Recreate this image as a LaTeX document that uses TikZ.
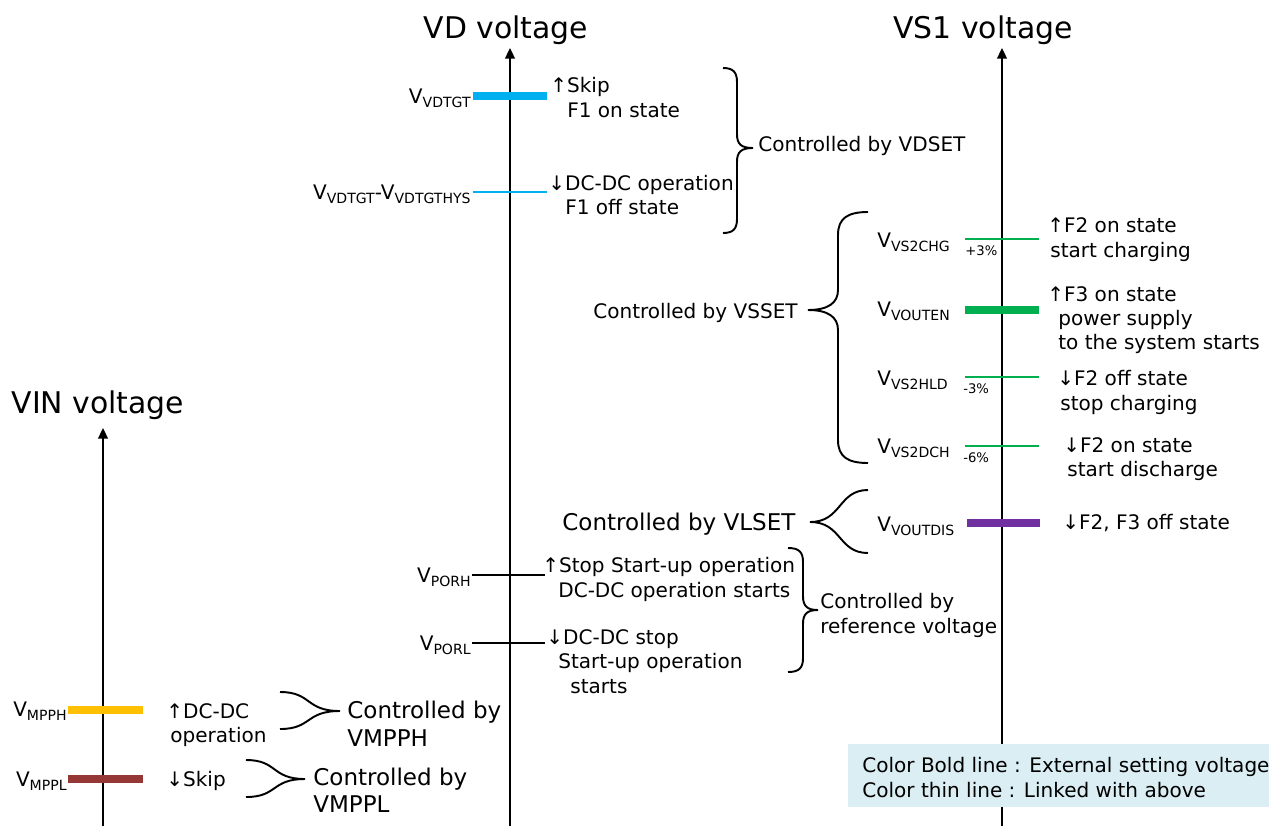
\documentclass[tikz,border=0pt]{standalone}
\usepackage{fontspec}
\setmainfont{DejaVu Sans}
\usetikzlibrary{arrows.meta}
\definecolor{cyanb}{HTML}{00B0F0}
\definecolor{greenb}{HTML}{00B050}
\definecolor{purpb}{HTML}{7030A0}
\definecolor{yelb}{HTML}{FFC000}
\definecolor{brownb}{HTML}{953735}
\definecolor{legbg}{HTML}{DAEEF3}
\newcommand\Vsub[1]{V\raisebox{-2.3pt}{\fontsize{8pt}{8pt}\selectfont #1}}
\newcommand\fnorm{\fontsize{11.4pt}{13pt}\selectfont}
\newcommand\fbig{\fontsize{13.1pt}{15pt}\selectfont}
\newcommand\ftitle{\fontsize{17pt}{20pt}\selectfont}
\newcommand\fsmall{\fontsize{7.5pt}{8pt}\selectfont}
\begin{document}
\begin{tikzpicture}[x=0.02cm,y=-0.02cm,
  txt/.style={anchor=base west,inner sep=0pt,font=\fnorm},
  bigtxt/.style={anchor=base west,inner sep=0pt,font=\fbig},
  lbl/.style={anchor=base east,inner sep=0pt,font=\fnorm},
  lblw/.style={anchor=base west,inner sep=0pt,font=\fnorm},
  pct/.style={anchor=base west,inner sep=0pt,font=\fsmall},
  ttl/.style={anchor=base,inner sep=0pt,font=\ftitle},
  thickbar/.style={line width=4pt,draw=#1},
  thinbar/.style={line width=1.3pt,draw=#1},
  axisline/.style={line width=1.1pt,-{Triangle[length=6pt,width=5.5pt]}},
  bracepath/.style={line width=1.1pt}]
\useasboundingbox (0,0) rectangle (1269,826);

% axes
\coordinate (vdB) at (510,826); \coordinate (vdT) at (510,48);
\coordinate (vsB) at (1002,826); \coordinate (vsT) at (1002,48);
\coordinate (vinB) at (103,826); \coordinate (vinT) at (103,428);
\draw[axisline] (vdB) -- (vdT);
\draw[axisline] (vsB) -- (vsT);
\draw[axisline] (vinB) -- (vinT);

% titles
\node[ttl] (tvd) at (506,38) {VD voltage};
\node[ttl] (tvs) at (983,38) {VS1 voltage};
\node[ttl] (tvin) at (98,413) {VIN voltage};

% ---- VD levels
\draw[thickbar=cyanb] (473,96) coordinate (vdtgtL) -- (547,96) coordinate (vdtgtR);
\draw[thinbar=cyanb] (473,192) coordinate (hysL) -- (547,192) coordinate (hysR);
\draw[line width=1.2pt] (472,575) coordinate (porhL) -- (545,575) coordinate (porhR);
\draw[line width=1.2pt] (472,643) coordinate (porlL) -- (545,643) coordinate (porlR);

\node[lbl] (lvdtgt) at (471,103) {\Vsub{VDTGT}};
\node[lbl] (lhys) at (471,199) {\Vsub{VDTGT}-\Vsub{VDTGTHYS}};
\node[lbl] (lporh) at (471,582) {\Vsub{PORH}};
\node[lbl] (lporl) at (471,650) {\Vsub{PORL}};

\node[txt] (skip) at (550,92) {↑Skip};
\node[txt] (f1on) at (567,117) {F1 on state};
\node[txt] (dcop) at (548,190) {↓DC-DC operation};
\node[txt] (f1off) at (565,214) {F1 off state};
\node[txt] (cvd) at (758,151) {Controlled by VDSET};

\node[txt] (stopsu) at (542,572) {↑Stop Start-up operation};
\node[txt] (dcst) at (558,597) {DC-DC operation starts};
\node[txt] (dcstop) at (546,644) {↓DC-DC stop};
\node[txt] (suop) at (558,668) {Start-up operation};
\node[txt] (strts) at (570,693) {starts};
\node[txt] (cref1) at (820,608) {Controlled by};
\node[txt] (cref2) at (820,633) {reference voltage};

% VDSET brace
\draw[bracepath] (723,68) .. controls (733,68) and (737,72) .. (737,82) -- (737,134)
  .. controls (737,144) and (741,148) .. (753,148)
  .. controls (741,148) and (737,152) .. (737,162) -- (737,219)
  .. controls (737,229) and (733,233) .. (723,233);
% reference brace
\draw[bracepath] (788,548) .. controls (799,548) and (803,552) .. (803,562) -- (803,596)
  .. controls (803,606) and (807,610) .. (818,610)
  .. controls (807,610) and (803,614) .. (803,624) -- (803,658)
  .. controls (803,668) and (799,672) .. (788,672);

% ---- VS1 levels
\draw[thinbar=greenb] (965,239) coordinate (chgL) -- (1039,239) coordinate (chgR);
\draw[thickbar=greenb] (965,310) coordinate (outenL) -- (1039,310) coordinate (outenR);
\draw[thinbar=greenb] (965,377) coordinate (hldL) -- (1039,377) coordinate (hldR);
\draw[thinbar=greenb] (965,446) coordinate (dchL) -- (1039,446) coordinate (dchR);
\draw[thickbar=purpb] (967,523) coordinate (disL) -- (1040,523) coordinate (disR);

\node[lblw] (lchg) at (877,247) {\Vsub{VS2CHG}};
\node[lblw] (louten) at (877,316) {\Vsub{VOUTEN}};
\node[lblw] (lhld) at (877,385) {\Vsub{VS2HLD}};
\node[lblw] (ldch) at (877,453) {\Vsub{VS2DCH}};
\node[lblw] (ldis) at (877,531) {\Vsub{VOUTDIS}};

\node[pct] (p3) at (965,255) {+3\%};
\node[pct] (m3) at (963,393) {-3\%};
\node[pct] (m6) at (963,462) {-6\%};

\node[txt] (f2on) at (1047,232) {↑F2 on state};
\node[txt] (stch) at (1050,257) {start charging};
\node[txt] (f3on) at (1047,301) {↑F3 on state};
\node[txt] (psup) at (1058,325) {power supply};
\node[txt] (tosys) at (1058,349) {to the system starts};
\node[txt] (f2off) at (1057,385) {↓F2 off state};
\node[txt] (stopch) at (1060,410) {stop charging};
\node[txt] (f2on2) at (1063,452) {↓F2 on state};
\node[txt] (stdis) at (1067,476) {start discharge};
\node[txt] (f2f3) at (1062,529) {↓F2, F3 off state};

\node[txt] (cvs) at (593,318) {Controlled by VSSET};
\node[bigtxt] (cvl) at (562,530) {Controlled by VLSET};

% VSSET brace
\draw[bracepath] (868,212) .. controls (848,212) and (838,218) .. (838,235) -- (838,290)
  .. controls (838,303) and (828,310) .. (808,310)
  .. controls (828,310) and (838,317) .. (838,330) -- (838,440)
  .. controls (838,457) and (848,463) .. (868,463);
% VLSET brace
\draw[bracepath] (868,490) .. controls (838,490) and (842,522) .. (810,522)
  .. controls (842,522) and (838,553) .. (868,553);

% ---- VIN levels
\draw[thickbar=yelb] (68,710) coordinate (mpphL) -- (143,710) coordinate (mpphR);
\draw[thickbar=brownb] (68,779) coordinate (mpplL) -- (143,779) coordinate (mpplR);
\node[lbl] (lmpph) at (67,716) {\Vsub{MPPH}};
\node[lbl] (lmppl) at (67,786) {\Vsub{MPPL}};

\node[txt] (dcdc) at (166,718) {↑DC-DC};
\node[txt] (oper) at (170,742) {operation};
\node[txt] (skip2) at (166,786) {↓Skip};

\node[bigtxt] (cm1) at (347,718) {Controlled by};
\node[bigtxt] (cm2) at (347,746) {VMPPH};
\node[bigtxt] (cm3) at (313,785) {Controlled by};
\node[bigtxt] (cm4) at (313,812) {VMPPL};

\draw[bracepath] (280,692) .. controls (312,692) and (305,711) .. (340,711)
  .. controls (305,711) and (312,729) .. (280,729);
\draw[bracepath] (246,760) .. controls (278,760) and (271,779) .. (305,779)
  .. controls (271,779) and (278,797) .. (246,797);

% ---- legend
\fill[legbg] (848,744) rectangle (1269,807);
\node[txt] (leg1) at (862,772) {Color Bold line : External setting voltage};
\node[txt] (leg2) at (862,797) {Color thin line : Linked with above};
\end{tikzpicture}
\end{document}
